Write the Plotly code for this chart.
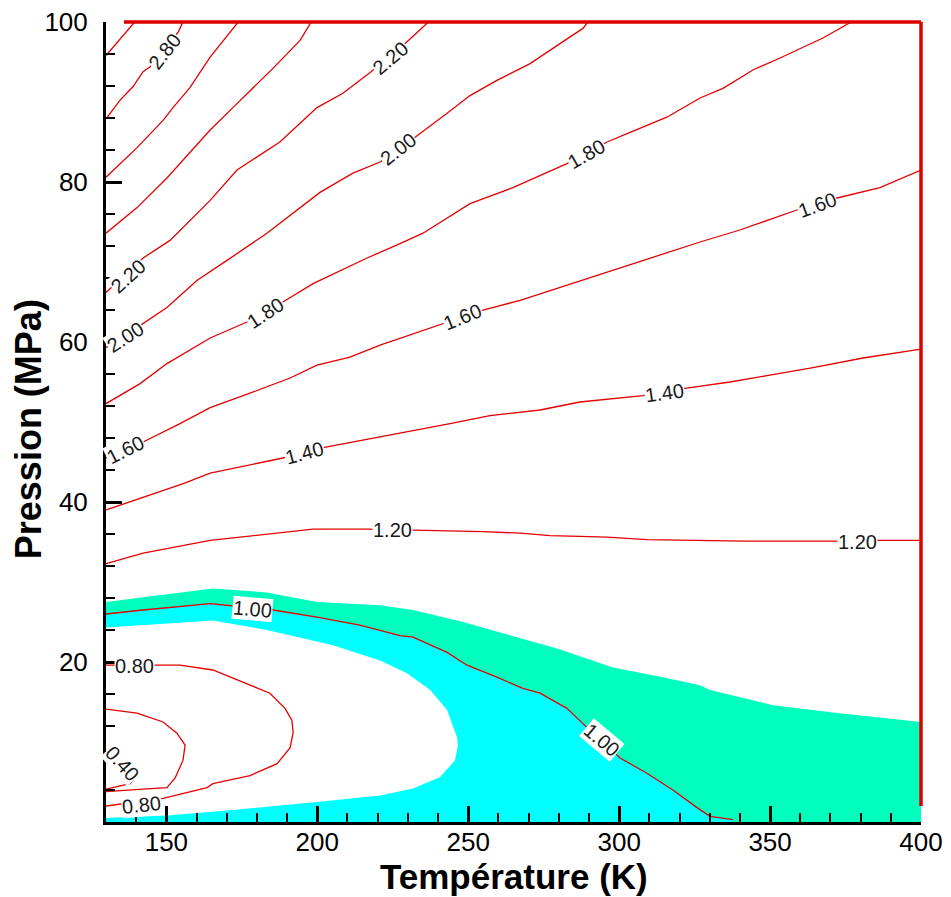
import plotly.graph_objects as go

# ---------------- data ----------------
# Temperature (K) / Pressure (MPa) traces of iso-Z (compressibility factor) lines
T_300 = [130, 139.5]
P_300 = [95.8, 100]

T_280 = [130, 134.6, 138.9, 142.3, 144.6, 154.0, 155.5]
P_280 = [87.9, 90.2, 91.9, 93.8, 94.4, 98.8, 100]

T_260 = [130, 140.3, 148.9, 152.2, 157.8, 164.5, 173.8]
P_260 = [80.6, 84.3, 87.7, 89.3, 91.8, 95.6, 100]

T_240 = [130, 140.3, 150.2, 164.5, 173.4, 185.3, 194.3, 198.0]
P_240 = [73.6, 76.8, 80.5, 86.5, 89.8, 94.2, 97.7, 100]

T_220 = [130, 142.3, 151.2, 164.5, 173.4, 187.6, 199.9, 208.5, 217.5, 229.1, 236.8]
P_220 = [66.2, 70.5, 72.7, 77.7, 81.5, 85.0, 89.3, 91.1, 93.7, 97.3, 100]

T_200 = [130, 136.3, 150.2, 160.1, 170.1, 183.3, 200.9, 211.8, 220.8, 232.4, 243.0,
         250.6, 259.5, 270.5, 280.4, 288.0, 289.6]
P_200 = [59.3, 60.8, 64.3, 67.7, 70.2, 73.6, 78.7, 81.1, 82.5, 85.6, 88.6,
         90.8, 92.7, 94.8, 97.3, 99.2, 100]

T_180 = [130, 141.3, 150.2, 164.5, 176.7, 188.6, 198.6, 216.5, 227.4, 235.0, 250.6,
         264.8, 282.7, 296.0, 303.6, 315.8, 326.8, 334.4, 344.3, 353.3, 367.5, 376.9]
P_180 = [52.3, 54.8, 57.3, 60.5, 62.5, 65.0, 67.3, 70.5, 72.3, 73.6, 77.3,
         79.3, 82.3, 85.0, 86.2, 88.1, 90.5, 91.7, 94.0, 95.5, 98.0, 100]

T_160 = [130, 142.3, 154.5, 164.5, 177.7, 191.0, 199.9, 210.8, 220.8, 241.6, 254.9,
         267.2, 280.4, 287.0, 300.3, 326.8, 340.0, 358.9, 372.2, 386.4, 400]
P_160 = [45.5, 47.5, 49.8, 51.8, 53.6, 55.5, 57.1, 58.1, 59.6, 62.3, 64.0,
         65.2, 66.8, 67.6, 69.3, 72.5, 74.0, 76.5, 78.0, 79.3, 81.5]

T_140 = [130, 142.3, 155.6, 164.5, 177.7, 188.6, 201.9, 227.4, 244.0, 257.2, 273.8,
         287.0, 307.9, 321.8, 336.7, 349.0, 364.2, 380.8, 400]
P_140 = [39.0, 40.6, 42.3, 43.6, 44.6, 45.5, 46.8, 48.6, 49.8, 50.8, 51.5,
         52.5, 53.3, 54.2, 55.0, 55.8, 56.8, 58.0, 59.1]

T_120 = [130, 142.3, 164.5, 198.6, 216.5, 231.7, 254.9, 267.2, 277.1, 287.0, 296.0,
         309.2, 325.8, 341.7, 372.2, 385.4, 400]
P_120 = [32.3, 33.6, 35.2, 36.6, 36.6, 36.5, 36.3, 36.1, 35.8, 35.7, 35.6,
         35.3, 35.2, 35.1, 35.1, 35.2, 35.2]

T_100 = [130, 142.3, 164.5, 185.3, 199.9, 214.1, 227.4, 231.7, 243.0, 249.6, 259.5,
         268.1, 273.8, 282.7, 288.0, 300.3, 309.2, 317.8, 325.8, 330.1, 337.7]
P_100 = [26.0, 26.5, 27.3, 26.5, 25.6, 24.6, 23.3, 23.1, 21.2, 19.6, 18.1,
         16.7, 16.1, 14.2, 12.3, 8.0, 6.1, 4.0, 1.8, 0.7, 0.3]

# upper edge of the green band (Z = 1.1)
T_110 = [130, 165.4, 183.3, 199.9, 220.8, 231.7, 248.3, 264.8, 279.4, 298.0, 314.5,
         326.8, 330.1, 351.0, 370.9, 400]
P_110 = [27.5, 29.2, 28.7, 27.5, 27.1, 26.5, 25.0, 23.3, 21.7, 19.3, 18.1,
         17.1, 16.5, 14.6, 13.7, 12.5]

# lower edge of the cyan band (Z = 0.9)
T_090 = [130, 165.4, 183.3, 205.2, 220.8, 229.7, 237.4, 243.0, 246.3, 246.6, 245.6,
         240.6, 231.7, 220.8, 199.9, 172.1, 150.2, 130]
P_090 = [24.3, 25.2, 24.0, 22.1, 20.2, 18.6, 16.5, 14.0, 10.6, 9.6, 7.7,
         5.6, 4.2, 3.3, 2.5, 1.5, 0.8, 0.5]

T_080 = [130, 146.2, 154.5, 165.4, 175.4, 184.3, 189.3, 191.6, 192.0, 191.0, 186.7,
         177.7, 165.4, 163.5, 148.9, 134.6, 130]
P_080 = [19.6, 19.6, 19.6, 19.0, 17.5, 16.1, 14.2, 12.7, 11.2, 9.3, 7.3,
         5.8, 4.8, 4.3, 2.95, 2.2, 2.0]

T_060 = [130, 140.3, 148.9, 153.5, 156.2, 155.5, 152.9, 150.2, 142.3, 130]
P_060 = [14.1, 13.6, 12.5, 11.1, 9.6, 7.7, 5.5, 4.3, 4.1, 3.8]

T_040 = [130, 138.0, 140.5]
P_040 = [4.1, 4.8, 6.0]

LINES_T = [T_300, T_280, T_260, T_240, T_220, T_200, T_180, T_160, T_140, T_120,
           T_100, T_080, T_060, T_040]
LINES_P = [P_300, P_280, P_260, P_240, P_220, P_200, P_180, P_160, P_140, P_120,
           P_100, P_080, P_060, P_040]

# contour labels
LABEL_TEXT = ["2.80", "2.20", "2.20", "2.00", "2.00", "1.80", "1.80", "1.60", "1.60",
              "1.60", "1.40", "1.40", "1.20", "1.20", "1.00", "1.00", "0.80", "0.80",
              "0.40"]
LABEL_T = [149.5, 137.5, 224.3, 136.5, 226.9, 182.8, 289.2, 136.3, 248.1,
           365.7, 195.6, 314.9, 224.9, 378.8, 178.5, 294.2, 139.6, 141.6, 135.6]
LABEL_P = [96.4, 68.2, 95.5, 60.6, 84.1, 63.65, 83.5, 46.5, 63.15,
           77.1, 46.15, 53.65, 36.5, 35.0, 26.65, 10.2, 19.5, 2.1, 7.3]
LABEL_ANGLE = [-52, -42, -40, -33, -38, -33, -30, -27, -22,
               -20, -15, -8, 0, 0, 5, 40, 0, -6, 48]

X_TICKS = [150, 200, 250, 300, 350, 400]
Y_TICKS = [20, 40, 60, 80, 100]

# ---------------- figure ----------------
RED = "rgb(228,0,0)"
CYAN = "#00FFFF"
MINT = "#00FFBF"

fig = go.Figure()

# green band (1.0 < Z < 1.1)
mint_x = T_110 + [400, T_100[-1]] + T_100[::-1]
mint_y = P_110 + [0, 0] + P_100[::-1]
fig.add_trace(go.Scatter(x=mint_x, y=mint_y, fill="toself", fillcolor=MINT,
                         mode="lines", line=dict(width=0), hoverinfo="skip",
                         showlegend=False))

# cyan band (0.9 < Z < 1.0)
cyan_x = T_100 + [T_100[-1], 130] + T_090[::-1]
cyan_y = P_100 + [0, 0] + P_090[::-1]
fig.add_trace(go.Scatter(x=cyan_x, y=cyan_y, fill="toself", fillcolor=CYAN,
                         mode="lines", line=dict(width=0), hoverinfo="skip",
                         showlegend=False))

for tx, py in zip(LINES_T, LINES_P):
    fig.add_trace(go.Scatter(x=tx, y=py, mode="lines",
                             line=dict(color=RED, width=1.3),
                             hoverinfo="skip", showlegend=False))

annotations = []
for txt, t, p, a in zip(LABEL_TEXT, LABEL_T, LABEL_P, LABEL_ANGLE):
    annotations.append(dict(x=t, y=p, xref="x", yref="y", text=txt, showarrow=False,
                            textangle=a, bgcolor="white", borderpad=0,
                            font=dict(family="Liberation Sans", size=20, color="#1a1a1a")))

annotations.append(dict(x=0.5, y=0, xref="paper", yref="paper", text="Température (K)",
                        showarrow=False, xanchor="center", yanchor="top", yshift=-33,
                        font=dict(family="Liberation Sans", size=35, color="black",
                                  weight="bold")))
annotations.append(dict(x=0, y=0.491, xref="paper", yref="paper", text="Pression (MPa)",
                        showarrow=False, xanchor="center", yanchor="middle", xshift=-78,
                        textangle=-90,
                        font=dict(family="Liberation Sans", size=36, color="black",
                                  weight="bold")))

TICK_FONT = dict(family="Liberation Sans", size=26, color="black")

# the page body adds an 8 px offset, so the figure is 8 px smaller on each side
fig.update_layout(
    width=943, height=889,
    margin=dict(l=98, r=30, t=14, b=75, autoexpand=False),
    paper_bgcolor="white", plot_bgcolor="white",
    annotations=annotations,
    shapes=[
        dict(type="line", xref="paper", yref="paper", x0=0.022, x1=1, y0=1, y1=1,
             line=dict(color="rgb(220,0,0)", width=3.5), layer="above"),
        dict(type="line", xref="paper", yref="paper", x0=1, x1=1, y0=0.02, y1=1,
             line=dict(color="rgb(220,0,0)", width=3.5), layer="above"),
    ],
)

fig.update_xaxes(range=[130, 400], tickvals=X_TICKS, ticks="inside", ticklen=16,
                 tickwidth=3, tickcolor="black", showline=True, linecolor="black",
                 linewidth=3, mirror=False, showgrid=False, zeroline=False,
                 automargin=False, ticklabeloverflow="allow",
                 tickfont=TICK_FONT, ticklabelstandoff=-5,
                 minor=dict(ticks="inside", ticklen=9, tickwidth=2, dtick=10, tick0=0,
                            tickcolor="black", showgrid=False))
fig.update_yaxes(range=[0, 100], tickvals=Y_TICKS, ticks="inside", ticklen=16,
                 tickwidth=3, tickcolor="black", showline=True, linecolor="black",
                 linewidth=3, mirror=False, showgrid=False, zeroline=False,
                 automargin=False, ticklabeloverflow="allow",
                 tickfont=TICK_FONT, ticklabelstandoff=10,
                 minor=dict(ticks="inside", ticklen=9, tickwidth=2, dtick=4, tick0=0,
                            tickcolor="black", showgrid=False))

fig.write_html("out.html")
